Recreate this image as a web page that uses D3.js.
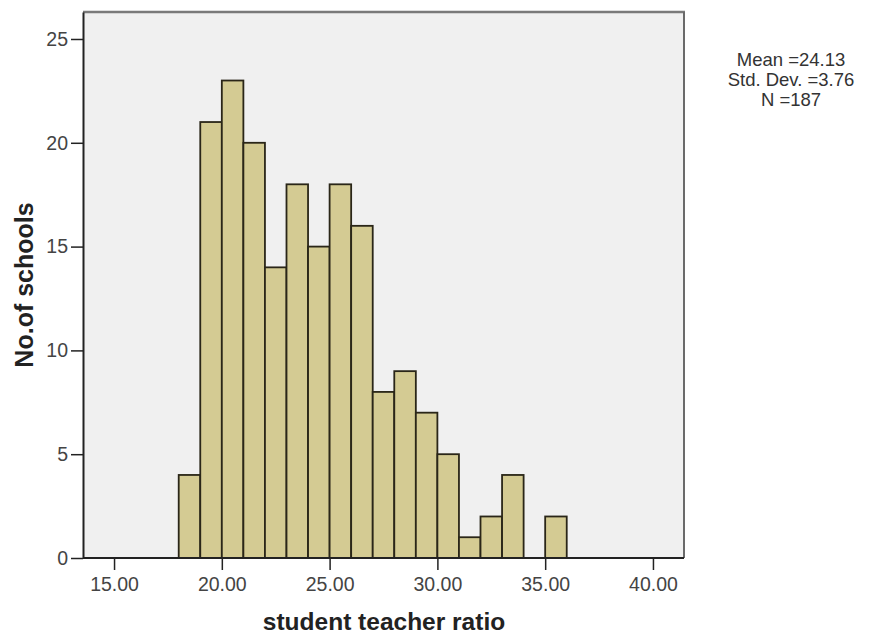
<!DOCTYPE html>
<html><head><meta charset="utf-8">
<script src="https://cdn.jsdelivr.net/npm/d3@7"></script>
<style>body{margin:0;background:#fff;}</style>
</head><body>
<svg id="c" width="871" height="636"></svg>
<script>
const binStarts = [18,19,20,21,22,23,24,25,26,27,28,29,30,31,32,33,34,35];
const counts    = [4,21,23,20,14,18,15,18,16,8,9,7,5,1,2,4,0,2];
const binWidth = 1;
const xTicks = [15,20,25,30,35,40];
const yTicks = [0,5,10,15,20,25];
const stats = ["Mean =24.13","Std. Dev. =3.76","N =187"];
const xLabel = "student teacher ratio";
const yLabel = "No.of schools";

const FONT = "Liberation Sans, Arial, sans-serif";
const svg = d3.select("#c");
const L=83, R=684, T=12, B=558;
const x = d3.scaleLinear().domain([13.56,41.44]).range([L,R]);
const y = d3.scaleLinear().domain([0,26.3]).range([B,T]);

svg.append("rect").attr("x",L).attr("y",T).attr("width",R-L).attr("height",B-T).attr("fill","#f0f0f0");

svg.append("g").selectAll("rect").data(binStarts.map((s,i)=>({s,c:counts[i]})).filter(d=>d.c>0))
  .join("rect")
  .attr("x",d=>x(d.s)).attr("y",d=>y(d.c))
  .attr("width",d=>x(d.s+binWidth)-x(d.s)).attr("height",d=>B-y(d.c))
  .attr("fill","#d4cb93").attr("stroke","#2a2618").attr("stroke-width",1.8);

// frame top & right
svg.append("line").attr("x1",L).attr("x2",R+1).attr("y1",T).attr("y2",T).attr("stroke","#7a7a7a").attr("stroke-width",2.5);
svg.append("line").attr("x1",R).attr("x2",R).attr("y1",T).attr("y2",B).attr("stroke","#6a6a6a").attr("stroke-width",2);

const xAxis = svg.append("g").attr("transform",`translate(0,${B})`)
  .call(d3.axisBottom(x).tickValues(xTicks).tickFormat(d3.format(".2f")).tickSize(12).tickSizeOuter(0));
const yAxis = svg.append("g").attr("transform",`translate(${L},0)`)
  .call(d3.axisLeft(y).tickValues(yTicks).tickFormat(d3.format("d")).tickSize(12).tickSizeOuter(0));
[xAxis,yAxis].forEach(a=>{
  a.select(".domain").attr("stroke","#222").attr("stroke-width",2);
  a.selectAll(".tick line").attr("stroke","#222").attr("stroke-width",1.5);
  a.selectAll("text").attr("font-family",FONT).attr("font-size",19.5).attr("fill","#444");
});
xAxis.select(".domain").attr("d",`M${L},0H${R}`);
xAxis.selectAll(".tick text").attr("y",19);
yAxis.selectAll(".tick text").attr("x",-15);

svg.append("text").attr("x",384).attr("y",630).attr("text-anchor","middle")
  .attr("font-family",FONT).attr("font-weight","bold").attr("font-size",24.5).attr("fill","#222").text(xLabel);
svg.append("text").attr("transform","translate(33,285) rotate(-90)").attr("text-anchor","middle")
  .attr("font-family",FONT).attr("font-weight","bold").attr("font-size",25).attr("fill","#222").text(yLabel);

svg.append("g").selectAll("text").data(stats).join("text")
  .attr("x",791).attr("y",(d,i)=>66+i*20).attr("text-anchor","middle")
  .attr("font-family",FONT).attr("font-size",18.5).attr("fill","#333").text(d=>d);
</script>
</body></html>
